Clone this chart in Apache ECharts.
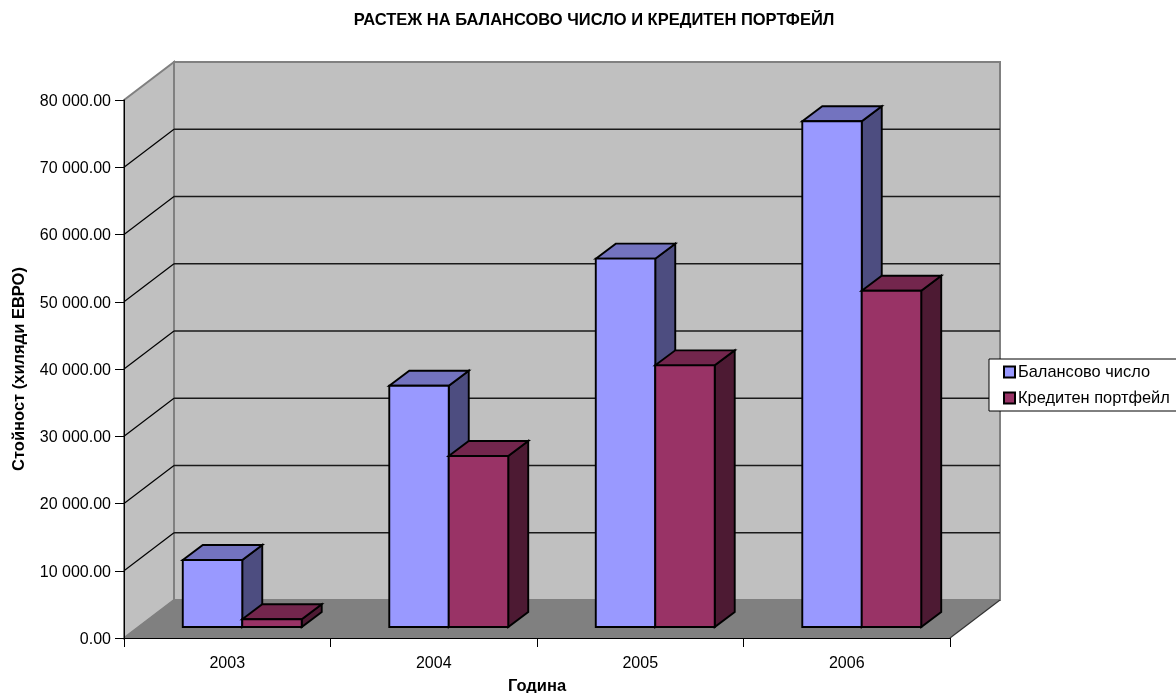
<!DOCTYPE html>
<html>
<head>
<meta charset="utf-8">
<title>Растеж на балансово число и кредитен портфейл</title>
<style>html,body{margin:0;padding:0;background:#fff;overflow:hidden}#chart{width:1176px;height:693px}</style>
<script src="https://cdn.jsdelivr.net/npm/echarts@6/dist/echarts.min.js"></script>
</head>
<body>
<div id="chart"></div>
<script>
// Values in thousands of euro, per year
const years = ['2003', '2004', '2005', '2006'];
const balanceTotal = [9960, 35880, 54770, 75200];
const creditPortfolio = [1145, 25430, 38910, 50010];
const valueTicks = [0, 10000, 20000, 30000, 40000, 50000, 60000, 70000, 80000];

const seriesNames = ['Балансово число', 'Кредитен портфейл'];
const FONT = '"Liberation Sans", Arial, sans-serif';

// Oblique projection: how far the floor and the bars recede from the axis plane
const ROOM_DX = 50, ROOM_DY = -38;
const BAR_FRONT_DX = 15, BAR_FRONT_DY = -11;
const BAR_DX = 20, BAR_DY = -15;
const BAR_SHARE = 0.288;

const palette = [
  { front: '#9999ff', top: '#7373bf', side: '#4d4d80' },
  { front: '#993366', top: '#73264d', side: '#4d1a33' }
];

function poly(points, fill, stroke, lineWidth) {
  return {
    type: 'polygon',
    shape: { points },
    style: { fill, stroke: stroke || null, lineWidth: lineWidth || 0, lineJoin: 'miter' }
  };
}

function line(x1, y1, x2, y2, stroke, lineWidth) {
  return {
    type: 'line',
    shape: { x1, y1, x2, y2 },
    style: { stroke, lineWidth }
  };
}

// Back wall, side wall and floor of the chart room
function renderRoom(params, api) {
  const rect = params.coordSys;
  const l = rect.x, r = rect.x + rect.width;
  const t = rect.y, b = rect.y + rect.height;
  const dx = ROOM_DX, dy = ROOM_DY;
  const edge = '#808080';
  return {
    type: 'group',
    children: [
      poly([[l + dx, t + dy], [r + dx, t + dy], [r + dx, b + dy], [l + dx, b + dy]], '#c0c0c0', edge, 2),
      poly([[l, t], [l + dx, t + dy], [l + dx, b + dy], [l, b]], '#c0c0c0', edge, 2),
      poly([[l, b], [l + dx, b + dy], [r + dx, b + dy], [r, b]], '#808080', null, 0),
      line(r, b, r + dx, b + dy, '#333333', 1.2),
      line(l, b, l + dx, b + dy, '#808080', 1)
    ]
  };
}

// One gridline: diagonal across the side wall, then along the back wall
function renderGridline(params, api) {
  const value = api.value(0);
  if (value === 0 || value === 80000) return null;
  const rect = params.coordSys;
  const y = api.coord([0, value])[1];
  const l = rect.x, r = rect.x + rect.width;
  return {
    type: 'group',
    children: [
      line(l, y, l + ROOM_DX, y + ROOM_DY, '#000000', 1.2),
      line(l + ROOM_DX, y + ROOM_DY, r + ROOM_DX, y + ROOM_DY, '#1a1a1a', 1.4)
    ]
  };
}

// A column drawn as front, top and side faces
function makeBarRenderer(seriesIndex) {
  return function (params, api) {
    const base = api.coord([api.value(0), 0]);
    const head = api.coord([api.value(0), api.value(1)]);
    const band = api.size([1, 0])[0];
    const w = band * BAR_SHARE;
    const x0 = base[0] + BAR_FRONT_DX + (seriesIndex === 0 ? -w : 0);
    const x1 = x0 + w;
    const yb = base[1] + BAR_FRONT_DY;
    const yt = head[1] + BAR_FRONT_DY;
    const c = palette[seriesIndex];
    const lw = 1.9;
    return {
      type: 'group',
      children: [
        poly([[x1, yt], [x1 + BAR_DX, yt + BAR_DY], [x1 + BAR_DX, yb + BAR_DY], [x1, yb]], c.side, '#000', lw),
        poly([[x0, yt], [x0 + BAR_DX, yt + BAR_DY], [x1 + BAR_DX, yt + BAR_DY], [x1, yt]], c.top, '#000', lw),
        poly([[x0, yt], [x1, yt], [x1, yb], [x0, yb]], c.front, '#000', lw)
      ]
    };
  };
}

const chart = echarts.init(document.getElementById('chart'), null, { renderer: 'canvas' });

chart.setOption({
  animation: false,
  backgroundColor: '#ffffff',
  title: {
    text: 'РАСТЕЖ НА БАЛАНСОВО ЧИСЛО И КРЕДИТЕН ПОРТФЕЙЛ',
    left: 589,
    top: 7,
    textAlign: 'center',
    textStyle: { fontFamily: FONT, fontSize: 16.5, fontWeight: 'bold', color: '#000' }
  },
  grid: { left: 124, top: 100, width: 826, height: 538, containLabel: false, outerBoundsMode: 'none' },
  legend: {
    orient: 'vertical',
    left: 989,
    top: 359,
    backgroundColor: '#ffffff',
    borderColor: '#000000',
    borderWidth: 1,
    padding: [5, 40, 5, 14],
    itemGap: 10,
    itemWidth: 11,
    itemHeight: 11,
    icon: 'rect',
    selectedMode: false,
    textStyle: { fontFamily: FONT, fontSize: 16.4, color: '#000', padding: [0, 0, 0, -2] },
    data: seriesNames
  },
  xAxis: {
    type: 'category',
    data: years,
    name: 'Година',
    nameLocation: 'middle',
    nameGap: 40,
    nameTextStyle: { fontFamily: FONT, fontSize: 16.5, fontWeight: 'bold', color: '#000' },
    axisLine: { lineStyle: { color: '#000', width: 1 } },
    axisTick: { show: true, length: 9, lineStyle: { color: '#000' } },
    axisLabel: { fontFamily: FONT, fontSize: 16, color: '#000', margin: 18 },
    splitLine: { show: false }
  },
  yAxis: {
    type: 'value',
    min: 0,
    max: 80000,
    interval: 10000,
    name: 'Стойност (хиляди ЕВРО)',
    nameLocation: 'middle',
    nameGap: 96,
    nameTextStyle: { fontFamily: FONT, fontSize: 16.5, fontWeight: 'bold', color: '#000' },
    axisLine: { show: true, lineStyle: { color: '#000', width: 1 } },
    axisTick: { show: true, length: 9, lineStyle: { color: '#000' } },
    axisLabel: {
      margin: 13,
      rich: {
        tick: { fontFamily: FONT, fontSize: 16, color: '#000', padding: [3, 0, 0, 0] }
      },
      formatter: v => {
        const [whole, frac] = v.toFixed(2).split('.');
        return '{tick|' + whole.replace(/\B(?=(\d{3})+$)/g, ' ') + '.' + frac + '}';
      }
    },
    splitLine: { show: false }
  },
  series: [
    {
      type: 'custom',
      name: 'room',
      silent: true,
      z: 0,
      renderItem: renderRoom,
      encode: { x: 0, y: 1 },
      data: [[0, 0]],
      clip: false
    },
    {
      type: 'custom',
      name: 'gridlines',
      silent: true,
      z: 1,
      renderItem: renderGridline,
      encode: { y: 0 },
      data: valueTicks.map(v => [v]),
      clip: false
    },
    {
      type: 'custom',
      name: seriesNames[0],
      z: 2,
      renderItem: makeBarRenderer(0),
      encode: { x: 0, y: 1 },
      itemStyle: { color: palette[0].front, borderColor: '#000', borderWidth: 1.5 },
      data: balanceTotal.map((v, i) => [i, v]),
      clip: false
    },
    {
      type: 'custom',
      name: seriesNames[1],
      z: 3,
      renderItem: makeBarRenderer(1),
      encode: { x: 0, y: 1 },
      itemStyle: { color: palette[1].front, borderColor: '#000', borderWidth: 1.5 },
      data: creditPortfolio.map((v, i) => [i, v]),
      clip: false
    }
  ]
});
</script>
</body>
</html>
